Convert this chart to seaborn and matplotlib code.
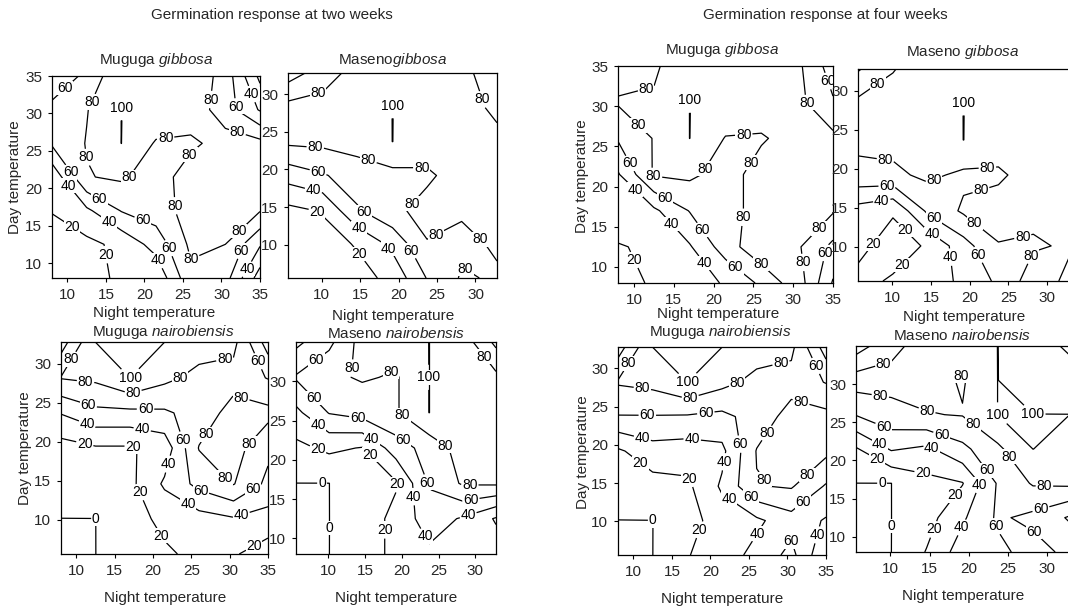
import numpy as np
import matplotlib
matplotlib.use("Agg")
import matplotlib.pyplot as plt
import seaborn as sns

sns.set_theme(style="ticks")
plt.rcParams["font.family"] = ["Liberation Sans", "DejaVu Sans"]
plt.rcParams["mathtext.fontset"] = "custom"
plt.rcParams["mathtext.rm"] = "Liberation Sans"
plt.rcParams["mathtext.it"] = "Liberation Sans:italic"

# temperature grid nodes (two ranges are used by the panels)
temps_hi = [8, 12.5, 17, 21.5, 26, 30.5, 35]
temps_lo = [5.6, 10.1, 14.6, 19.2, 23.7, 28.2, 32.8]

# germination (%) - rows = day temperature (low -> high), cols = night temperature
mug_gib_2wk = [
    [5, 12, 24, 24, 75, 68, 10],
    [10, 15, 25, 48, 84, 80, 42],
    [21, 36, 61, 70, 88, 90, 81],
    [25, 79, 83, 70, 90, 95, 92],
    [63, 81, 100, 78, 76, 88, 86],
    [65, 79, 100, 95, 92, 70, 38],
    [47, 64, 98, 95, 95, 72, 15],
]
mas_gib_2wk = [
    [2, 5, 12, 26, 61, 82, 78],
    [5, 10, 22, 45, 79, 76, 82],
    [15, 22, 58, 76, 86, 82, 86],
    [48, 58, 70, 74, 77, 88, 88],
    [84, 85, 88, 100, 90, 90, 85],
    [87, 88, 92, 100, 95, 88, 76],
    [50, 70, 88, 98, 95, 86, 68],
]
mug_nai_2wk = [
    [0, 0, 10, 17, 25, 22, 10],
    [0, 0, 12, 25, 32, 38, 32],
    [5, 8, 15, 43, 66, 81, 55],
    [12, 18, 18, 28, 81, 88, 65],
    [41, 55, 55, 57, 68, 88, 86],
    [81, 84, 100, 85, 74, 72, 59],
    [50, 100, 100, 100, 90, 86, 30],
]
mas_nai_2wk = [
    [0, 0, 10, 25, 36, 35, 30],
    [0, 0, 8, 26, 50, 38, 18],
    [0, 0, 10, 18, 62, 82, 83],
    [15, 24, 19, 50, 68, 88, 86],
    [35, 61, 68, 78, 100, 92, 88],
    [62, 76, 82, 78, 100, 92, 85],
    [35, 55, 88, 88, 100, 92, 55],
]
mug_gib_4wk = [
    [8, 24, 35, 41, 64, 92, 38],
    [18, 25, 38, 70, 95, 83, 55],
    [37, 36, 61, 72, 88, 92, 82],
    [38, 82, 84, 72, 88, 92, 90],
    [62, 81, 100, 79, 78, 88, 85],
    [82, 83, 100, 95, 92, 86, 62],
    [70, 76, 98, 95, 95, 85, 50],
]
mas_gib_4wk = [
    [15, 22, 30, 44, 64, 90, 76],
    [25, 12, 22, 52, 79, 78, 82],
    [32, 22, 64, 83, 88, 84, 88],
    [74, 76, 84, 76, 77, 88, 88],
    [85, 86, 88, 100, 90, 90, 88],
    [86, 88, 92, 100, 95, 92, 90],
    [58, 79, 90, 98, 95, 92, 90],
]
mug_nai_4wk = [
    [0, 0, 19, 30, 46, 66, 22],
    [0, 0, 12, 30, 36, 52, 38],
    [5, 12, 16, 43, 79, 82, 58],
    [17, 32, 30, 35, 81, 90, 85],
    [59, 59, 58, 55, 68, 88, 86],
    [82, 86, 100, 86, 74, 72, 59],
    [50, 100, 100, 100, 90, 85, 30],
]
mas_nai_4wk = [
    [0, 0, 21, 50, 55, 68, 55],
    [0, 0, 12, 37, 63, 55, 38],
    [0, 0, 14, 19, 62, 82, 84],
    [18, 42, 36, 55, 76, 100, 95],
    [61, 74, 79, 81, 100, 100, 100],
    [90, 86, 88, 78, 100, 95, 92],
    [50, 75, 88, 90, 100, 92, 76],
]

# 0 and 100 are plateaus in the data, so trace them just inside
levels = [0.1, 20, 40, 60, 80, 99.9]
level_text = {0.1: "0", 20: "20", 40: "40", 60: "60", 80: "80", 99.9: "100"}

W, H = 1068, 609
fig = plt.figure(figsize=(W / 100, H / 100), dpi=100)


def put(x, y, s, **kw):
    fig.text(x / W, 1 - y / H, s, ha="center", va="center", fontsize=11, **kw)


def label_spots(ax, cs, top, step=54):
    # spread several labels along every contour line, like the original,
    # sliding a label along its line when it would sit on another one
    spots, taken = [], []
    to_px = ax.transData.transform

    def free(q):
        return all(abs(q[0] - t[0]) > 22 or abs(q[1] - t[1]) > 12 for t in taken)

    for lev, path in zip(cs.levels[::-1], cs.get_paths()[::-1]):
        for seg in path.to_polygons(closed_only=False):
            if len(seg) < 2:
                continue
            px = to_px(seg)
            arc = np.r_[0, np.cumsum(np.hypot(*np.diff(px, axis=0).T))]
            if arc[-1] < 28:
                continue
            if lev > 99:
                if seg[:, 1].max() < top - 0.05:
                    i = np.argmax(seg[:, 1])
                else:
                    mid = (seg.min(axis=0) + seg.max(axis=0)) / 2
                    i = np.argmin(((seg - mid) ** 2).sum(axis=1))
                taken.append(px[i])
                spots.append((float(seg[i, 0]), float(seg[i, 1])))
                continue
            n = max(1, int(round(arc[-1] / step)))
            for k in range(n):
                s0 = (k + 0.5) * arc[-1] / n
                for shift in [0, 8, -8, 16, -16, 24, -24]:
                    s = min(max(s0 + shift, 6), arc[-1] - 6)
                    q = (np.interp(s, arc, px[:, 0]), np.interp(s, arc, px[:, 1]))
                    if free(q):
                        taken.append(q)
                        spots.append((float(np.interp(s, arc, seg[:, 0])),
                                      float(np.interp(s, arc, seg[:, 1]))))
                        break
    return spots


def add_panel(box, night, day, values, xticks, yticks):
    x0, y0, x1, y1 = box
    ax = fig.add_axes([x0 / W, 1 - y1 / H, (x1 - x0) / W, (y1 - y0) / H])
    cs = ax.contour(night, day, np.array(values, dtype=float), levels=levels,
                    colors="black", linewidths=0.9)
    ax.set_xlim(night[0], night[-1])
    ax.set_ylim(day[0], day[-1])
    spots = label_spots(ax, cs, day[-1])
    labels = ax.clabel(cs, fmt=level_text, fontsize=10, inline=True,
                       inline_spacing=1, manual=spots)
    for t in labels:
        t.set_rotation(0)
        t.set_bbox(dict(facecolor="white", edgecolor="none", pad=0.2))
    ax.set_xticks(xticks)
    ax.set_yticks(yticks)
    ax.tick_params(labelsize=11, length=3, width=0.8, pad=4, color="black")
    for s in ax.spines.values():
        s.set_color("black")
        s.set_linewidth(0.9)
    return ax


t35 = [10, 15, 20, 25, 30, 35]
t30 = [10, 15, 20, 25, 30]

add_panel((52, 76, 260, 278), temps_hi, temps_hi, mug_gib_2wk, t35, t35)
add_panel((288, 73, 497, 278), temps_lo, temps_lo, mas_gib_2wk, t30, t30)
add_panel((61, 342, 268, 554), temps_hi, temps_lo, mug_nai_2wk, t35, t30)
add_panel((296, 342, 496, 554), temps_lo, temps_hi, mas_nai_2wk, t30, t30)
add_panel((618, 66, 833, 283), temps_hi, temps_hi, mug_gib_4wk, t35, t35)
add_panel((858, 69, 1069, 281), temps_lo, temps_lo, mas_gib_4wk, t30, t30)
add_panel((618, 347, 826, 555), temps_hi, temps_lo, mug_nai_4wk, t35, t30)
add_panel((856, 346, 1069, 552), temps_lo, temps_hi, mas_nai_4wk, t30, t30)

put(272, 15, "Germination response at two weeks")
put(825, 15, "Germination response at four weeks")

put(156, 60, r"Muguga $\mathit{gibbosa}$")
put(393, 60, r"Maseno$\mathit{gibbosa}$")
put(163, 332, r"Muguga $\mathit{nairobiensis}$")
put(396, 334, r"Maseno $\mathit{nairobensis}$")
put(722, 50, r"Muguga $\mathit{gibbosa}$")
put(963, 52, r"Maseno $\mathit{gibbosa}$")
put(720, 332, r"Muguga $\mathit{nairobiensis}$")
put(962, 335, r"Maseno $\mathit{nairobensis}$")

for x, y in [(154, 313), (393, 316), (165, 598), (396, 598),
             (718, 314), (964, 317), (722, 599), (963, 596)]:
    put(x, y, "Night temperature")

for x, y in [(15, 177), (25, 448), (582, 176), (583, 452)]:
    put(x, y, "Day temperature", rotation=90)

fig.savefig("out.png", dpi=100)
